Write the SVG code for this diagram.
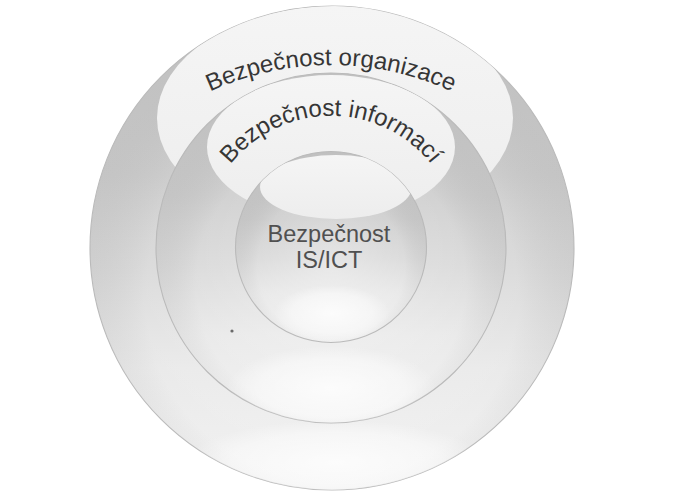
<svg xmlns="http://www.w3.org/2000/svg" width="683" height="504" viewBox="0 0 683 504">
<style>
.lbl{font-family:"Liberation Sans",Arial,sans-serif;font-size:24px;fill:#363636}
.inlbl{font-family:"Liberation Sans",Arial,sans-serif;font-size:23.5px;fill:#505050;text-anchor:middle}
.rim{stroke:#bababa;stroke-width:1.1}
</style>
<defs>
<linearGradient id="body" x1="0" y1="0" x2="0" y2="1">
<stop offset="0" stop-color="#c8c8c8"/>
<stop offset="0.35" stop-color="#cdcdcd"/>
<stop offset="0.55" stop-color="#d8d8d8"/>
<stop offset="0.75" stop-color="#e8e8e8"/>
<stop offset="1" stop-color="#f0f0f0"/>
</linearGradient>
<radialGradient id="shade" cx="0.5" cy="0.6" r="0.55">
<stop offset="0" stop-color="#ffffff" stop-opacity="0.35"/>
<stop offset="0.7" stop-color="#ffffff" stop-opacity="0.1"/>
<stop offset="1" stop-color="#000000" stop-opacity="0.04"/>
</radialGradient>
<linearGradient id="hl" x1="0" y1="0" x2="0" y2="1">
<stop offset="0" stop-color="#f5f5f5"/>
<stop offset="1" stop-color="#ededed"/>
</linearGradient>
<radialGradient id="refl" cx="0.5" cy="0.5" r="0.5">
<stop offset="0" stop-color="#ffffff" stop-opacity="0.8"/>
<stop offset="0.7" stop-color="#ffffff" stop-opacity="0.45"/>
<stop offset="1" stop-color="#ffffff" stop-opacity="0"/>
</radialGradient>
<clipPath id="cOuter"><circle cx="332" cy="248" r="242"/></clipPath>
<clipPath id="cMiddle"><circle cx="331" cy="248" r="175"/></clipPath>
<clipPath id="cInner"><circle cx="331" cy="247" r="95.5"/></clipPath>
<path id="arcOuter" d="M176,110 A290,290 0 0 1 486,110" fill="none"/>
<path id="arcMiddle" d="M207,212 A128,128 0 0 1 455,212" fill="none"/>
</defs>
<rect width="683" height="504" fill="#ffffff"/>

<g id="outer">
<circle cx="332" cy="248" r="242" fill="url(#body)"/>
<circle cx="332" cy="248" r="242" fill="url(#shade)" class="rim"/>
<g clip-path="url(#cOuter)">
<ellipse cx="335" cy="118" rx="178" ry="112" fill="url(#hl)"/>
<ellipse cx="336" cy="462" rx="150" ry="42" fill="url(#refl)"/>
</g>
<text class="lbl"><textPath href="#arcOuter" startOffset="50%" text-anchor="middle">Bezpečnost organizace</textPath></text>
</g>

<g id="middle">
<circle cx="331" cy="248" r="175" fill="url(#body)"/>
<circle cx="331" cy="248" r="175" fill="url(#shade)" class="rim"/>
<g clip-path="url(#cMiddle)">
<ellipse cx="331" cy="147" rx="124" ry="72" fill="url(#hl)"/>
<ellipse cx="331" cy="388" rx="105" ry="42" fill="url(#refl)"/>
</g>
<text class="lbl"><textPath href="#arcMiddle" startOffset="50%" text-anchor="middle">Bezpečnost informací</textPath></text>
</g>

<g id="inner">
<circle cx="331" cy="247" r="95.5" fill="url(#body)"/>
<circle cx="331" cy="247" r="95.5" fill="url(#shade)" class="rim"/>
<g clip-path="url(#cInner)">
<ellipse cx="336" cy="187" rx="76" ry="32" fill="url(#hl)"/>
<ellipse cx="332" cy="313" rx="58" ry="28" fill="url(#refl)"/>
</g>
<text class="inlbl" x="329" y="242">Bezpečnost</text>
<text class="inlbl" x="329" y="268">IS/ICT</text>
</g>

<circle cx="232" cy="331" r="1.6" fill="#6a6a6a"/>
</svg>
